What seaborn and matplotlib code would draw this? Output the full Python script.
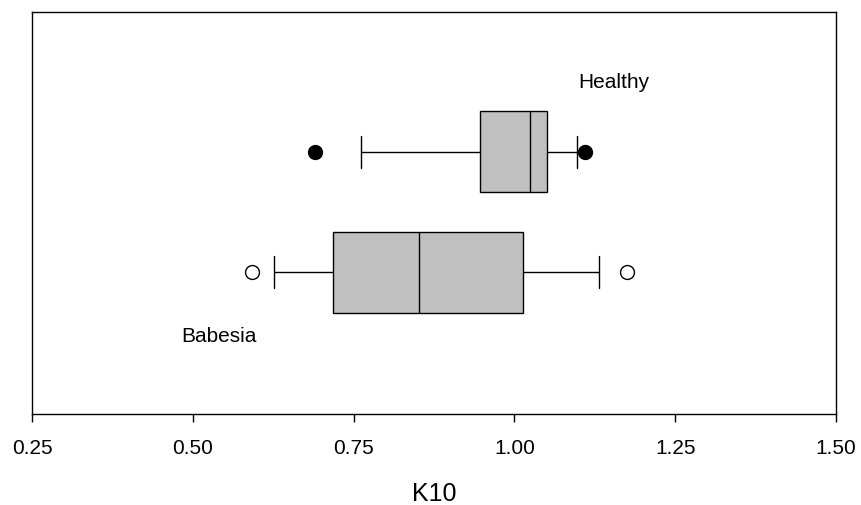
import matplotlib
matplotlib.use("Agg")
import matplotlib.pyplot as plt
import seaborn as sns
import pandas as pd

# ---- data ----
groups = ["Healthy", "Babesia"]
healthy_k10 = [0.690, 0.761, 0.947, 0.990, 1.025, 1.040, 1.050, 1.098, 1.110]
babesia_k10 = [0.592, 0.626, 0.718, 0.780, 0.851, 0.930, 1.014, 1.132, 1.175]
xticks = [0.25, 0.50, 0.75, 1.00, 1.25, 1.50]
xtick_labels = ["0.25", "0.50", "0.75", "1.00", "1.25", "1.50"]
x_label = "K10"

df = pd.DataFrame({
    "group": ["Healthy"] * len(healthy_k10) + ["Babesia"] * len(babesia_k10),
    "K10": healthy_k10 + babesia_k10,
})

sns.set_style("white")
plt.rcParams["font.family"] = ["Liberation Sans", "DejaVu Sans"]
plt.rcParams["text.color"] = "black"
plt.rcParams["axes.labelcolor"] = "black"
plt.rcParams["xtick.color"] = "black"

fig = plt.figure(figsize=(8.62, 5.06), dpi=100)
ax = fig.add_axes([0.0371, 0.1798, 0.9327, 0.7945])

box_w = 0.667
common = dict(
    x="K10", y="group", order=groups, orient="h", whis=(12.5, 87.5),
    width=box_w, color="#C0C0C0", linecolor="black", linewidth=1.0,
    capwidths=0.4 * box_w, ax=ax,
    medianprops=dict(color="black", linewidth=1.0),
)

sns.boxplot(data=df[df["group"] == "Healthy"],
            flierprops=dict(marker="o", markersize=10, markerfacecolor="black",
                            markeredgecolor="black"),
            **common)
sns.boxplot(data=df[df["group"] == "Babesia"],
            flierprops=dict(marker="o", markersize=10, markerfacecolor="white",
                            markeredgecolor="black", markeredgewidth=1.0),
            **common)

ax.set_xlim(0.25, 1.50)
ax.set_ylim(2.175, -1.158)
ax.set_xticks(xticks)
ax.set_xticklabels(xtick_labels, fontsize=15, color="black")
ax.set_yticks([])
ax.set_ylabel("")
ax.set_xlabel(x_label, fontsize=18, labelpad=17, color="black")
ax.tick_params(axis="x", direction="out", length=6, width=1.0, pad=11.5,
               bottom=True, colors="black")

for s in ax.spines.values():
    s.set_visible(True)
    s.set_color("black")
    s.set_linewidth(1.0)

ax.text(1.155, -0.578, "Healthy", fontsize=15, ha="center", va="center", color="black")
ax.text(0.540, 1.520, "Babesia", fontsize=15, ha="center", va="center", color="black")

fig.savefig("out.png", dpi=100, facecolor="white")
